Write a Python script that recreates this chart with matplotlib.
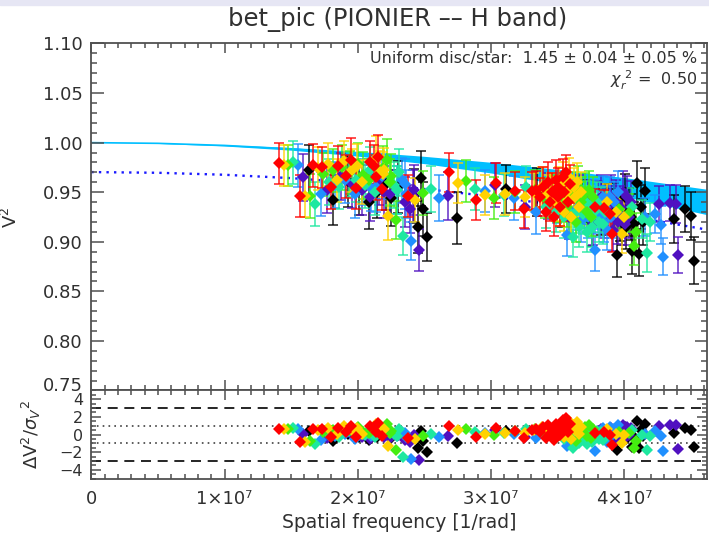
import numpy as np
import matplotlib
matplotlib.use("Agg")
import matplotlib.pyplot as plt
from matplotlib.patches import Rectangle
from matplotlib.ticker import MultipleLocator, FixedLocator
from matplotlib.transforms import ScaledTranslation

# PIONIER spectral channels (micron), long -> short wavelength
wavelength_um = [1.765, 1.725, 1.685, 1.645, 1.605, 1.565, 1.525]
channel_colors = ['#ff0000', '#ffd200', '#44ee10', '#1ee8a0', '#2090ff', '#5010c0', '#000000']

# projected baselines (m)
baseline_m = [24.90, 27.66, 29.33, 30.61, 31.77, 32.72, 33.75, 34.36, 35.07, 36.89,
              37.42, 37.77, 37.95, 38.48, 41.92,
              47.44, 50.97, 53.62, 56.13, 57.35, 58.35, 58.95,
              59.48, 59.83, 60.19, 60.54, 60.72, 61.07, 61.25, 61.60, 61.78, 61.88,
              62.13, 62.45, 62.66, 62.92, 63.19, 63.42,
              66.72, 67.95, 68.66, 68.94]

# squared visibilities, one row per baseline, one column per channel
vis2 = [
    [0.979, 0.977, 0.977, 0.980, 0.977, 0.965, 0.972],
    [0.946, 0.946, 0.946, 0.938, 0.948, 0.952, 0.942],
    [0.977, 0.974, 0.968, 0.960, 0.957, 0.966, 0.961],
    [0.975, 0.978, 0.972, 0.955, 0.962, 0.958, 0.952],
    [0.955, 0.962, 0.975, 0.968, 0.948, 0.952, 0.940],
    [0.976, 0.981, 0.970, 0.962, 0.960, 0.945, 0.950],
    [0.966, 0.972, 0.978, 0.957, 0.954, 0.962, 0.958],
    [0.982, 0.976, 0.967, 0.972, 0.955, 0.950, 0.944],
    [0.954, 0.960, 0.962, 0.950, 0.966, 0.948, 0.955],
    [0.980, 0.985, 0.974, 0.960, 0.952, 0.940, 0.946],
    [0.976, 0.970, 0.982, 0.957, 0.962, 0.933, 0.915],
    [0.965, 0.968, 0.960, 0.952, 0.958, 0.946, 0.964],
    [0.986, 0.972, 0.966, 0.970, 0.948, 0.952, 0.933],
    [0.953, 0.926, 0.922, 0.906, 0.901, 0.892, 0.905],
    [0.946, 0.942, 0.949, 0.953, 0.944, 0.946, 0.924],
    [0.970, 0.959, 0.961, 0.953, 0.951, 0.957, 0.953],
    [0.942, 0.947, 0.944, 0.947, 0.944, 0.935, 0.950],
    [0.959, 0.948, 0.950, 0.955, 0.930, 0.946, 0.940],
    [0.951, 0.945, 0.952, 0.935, 0.940, 0.925, 0.938],
    [0.933, 0.950, 0.944, 0.930, 0.907, 0.945, 0.920],
    [0.951, 0.955, 0.947, 0.925, 0.933, 0.940, 0.930],
    [0.952, 0.948, 0.940, 0.930, 0.921, 0.918, 0.935],
    [0.945, 0.950, 0.940, 0.905, 0.935, 0.940, 0.930],
    [0.955, 0.945, 0.948, 0.930, 0.925, 0.945, 0.935],
    [0.930, 0.940, 0.935, 0.915, 0.930, 0.925, 0.887],
    [0.960, 0.955, 0.945, 0.935, 0.940, 0.930, 0.925],
    [0.940, 0.935, 0.925, 0.928, 0.892, 0.935, 0.920],
    [0.950, 0.960, 0.950, 0.940, 0.930, 0.945, 0.945],
    [0.925, 0.930, 0.920, 0.910, 0.925, 0.912, 0.915],
    [0.962, 0.950, 0.955, 0.935, 0.945, 0.940, 0.930],
    [0.945, 0.942, 0.935, 0.915, 0.920, 0.928, 0.925],
    [0.955, 0.965, 0.940, 0.925, 0.935, 0.920, 0.891],
    [0.935, 0.925, 0.945, 0.930, 0.912, 0.935, 0.918],
    [0.965, 0.955, 0.950, 0.940, 0.945, 0.950, 0.959],
    [0.950, 0.945, 0.930, 0.920, 0.925, 0.918, 0.888],
    [0.970, 0.960, 0.952, 0.935, 0.940, 0.945, 0.935],
    [0.940, 0.935, 0.925, 0.918, 0.930, 0.925, 0.920],
    [0.958, 0.950, 0.945, 0.930, 0.950, 0.940, 0.951],
    [0.935, 0.940, 0.933, 0.935, 0.925, 0.938, 0.923],
    [0.934, 0.930, 0.929, 0.923, 0.928, 0.939, 0.933],
    [0.928, 0.908, 0.896, 0.889, 0.917, 0.938, 0.926],
    [0.908, 0.925, 0.910, 0.920, 0.885, 0.887, 0.881],
]

vis2_err = [
    [0.021, 0.021, 0.021, 0.022, 0.022, 0.024, 0.026],
    [0.021, 0.021, 0.022, 0.022, 0.022, 0.023, 0.025],
    [0.022, 0.022, 0.022, 0.023, 0.023, 0.024, 0.026],
    [0.021, 0.022, 0.022, 0.022, 0.023, 0.024, 0.025],
    [0.022, 0.022, 0.023, 0.023, 0.024, 0.025, 0.027],
    [0.021, 0.021, 0.022, 0.022, 0.023, 0.024, 0.026],
    [0.022, 0.022, 0.022, 0.023, 0.023, 0.025, 0.026],
    [0.023, 0.023, 0.024, 0.024, 0.025, 0.026, 0.028],
    [0.021, 0.022, 0.022, 0.023, 0.023, 0.024, 0.026],
    [0.022, 0.022, 0.023, 0.023, 0.024, 0.025, 0.027],
    [0.022, 0.022, 0.022, 0.023, 0.023, 0.024, 0.026],
    [0.023, 0.023, 0.024, 0.024, 0.025, 0.026, 0.028],
    [0.022, 0.023, 0.023, 0.024, 0.024, 0.025, 0.027],
    [0.021, 0.024, 0.019, 0.019, 0.019, 0.021, 0.024],
    [0.021, 0.022, 0.022, 0.023, 0.023, 0.024, 0.026],
    [0.020, 0.020, 0.021, 0.021, 0.021, 0.022, 0.024],
    [0.020, 0.020, 0.021, 0.021, 0.022, 0.022, 0.024],
    [0.020, 0.021, 0.021, 0.021, 0.022, 0.023, 0.025],
    [0.019, 0.020, 0.020, 0.021, 0.021, 0.022, 0.024],
    [0.019, 0.019, 0.020, 0.020, 0.021, 0.022, 0.024],
    [0.019, 0.020, 0.020, 0.021, 0.021, 0.022, 0.023],
    [0.019, 0.019, 0.020, 0.020, 0.021, 0.021, 0.023],
    [0.019, 0.019, 0.020, 0.020, 0.021, 0.021, 0.023],
    [0.020, 0.020, 0.020, 0.021, 0.021, 0.022, 0.024],
    [0.019, 0.019, 0.020, 0.020, 0.020, 0.021, 0.023],
    [0.020, 0.020, 0.021, 0.021, 0.022, 0.022, 0.024],
    [0.019, 0.019, 0.020, 0.020, 0.021, 0.021, 0.023],
    [0.019, 0.020, 0.020, 0.021, 0.021, 0.022, 0.023],
    [0.019, 0.019, 0.020, 0.020, 0.020, 0.021, 0.022],
    [0.020, 0.020, 0.021, 0.021, 0.021, 0.022, 0.024],
    [0.019, 0.019, 0.019, 0.020, 0.020, 0.021, 0.023],
    [0.019, 0.020, 0.020, 0.020, 0.021, 0.022, 0.024],
    [0.019, 0.019, 0.020, 0.020, 0.020, 0.021, 0.022],
    [0.018, 0.019, 0.019, 0.020, 0.020, 0.021, 0.022],
    [0.019, 0.019, 0.020, 0.020, 0.021, 0.021, 0.023],
    [0.018, 0.019, 0.019, 0.020, 0.020, 0.021, 0.022],
    [0.019, 0.019, 0.019, 0.020, 0.020, 0.021, 0.023],
    [0.019, 0.020, 0.020, 0.020, 0.021, 0.021, 0.023],
    [0.018, 0.018, 0.019, 0.019, 0.019, 0.018, 0.024],
    [0.018, 0.018, 0.019, 0.019, 0.019, 0.018, 0.023],
    [0.018, 0.019, 0.019, 0.019, 0.019, 0.019, 0.024],
    [0.018, 0.018, 0.019, 0.019, 0.019, 0.018, 0.024],
]

# models: star alone (band) and star + disc (dotted)
model_freq = [0.0, 0.5e7, 1.0e7, 1.5e7, 2.0e7, 2.5e7, 3.0e7, 3.5e7, 4.0e7, 4.62e7]
star_lo = [1.0, 0.9992, 0.9966, 0.9924, 0.9864, 0.9788, 0.9694, 0.9584, 0.9456, 0.9274]
star_hi = [1.0, 0.9995, 0.9978, 0.9951, 0.9912, 0.9862, 0.9802, 0.9730, 0.9648, 0.9530]
star_mid = [1.0, 0.9993, 0.9972, 0.9937, 0.9888, 0.9825, 0.9748, 0.9657, 0.9552, 0.9402]
disc_model = [0.9703, 0.9696, 0.9676, 0.9642, 0.9594, 0.9533, 0.9458, 0.9370, 0.9268, 0.9123]

B = np.array(baseline_m)
lam = np.array(wavelength_um) * 1e-6
V2 = np.array(vis2)
E2 = np.array(vis2_err)
freq = B[:, None] / lam[None, :]
resid = (V2 - np.interp(freq, model_freq, disc_model)) / E2

axis_col = '#505050'
text_col = '#303030'
plt.rcParams['font.family'] = ['DejaVu Sans']
plt.rcParams['mathtext.fontset'] = 'dejavusans'

fig = plt.figure(figsize=(7.09, 5.35), dpi=100)
fig.patches.append(Rectangle((0, 1 - 5 / 535), 1, 5 / 535, transform=fig.transFigure,
                             color='#e6e6f4', zorder=0))
ax1 = fig.add_axes([0.1288, 0.2701, 0.8684, 0.6486])
ax2 = fig.add_axes([0.1288, 0.1056, 0.8684, 0.1645], sharex=ax1)

ax1.fill_between(model_freq, star_lo, star_hi, color='#00bfff', lw=0, zorder=1)
ax1.plot(model_freq, star_mid, color='#00bfff', lw=1.2, zorder=1)
ax1.plot(model_freq, disc_model, color='#1a1aff', lw=1.7, ls=(0, (1, 2.2)), zorder=1)

order = [6, 5, 4, 3, 2, 1, 0]
for k in order:
    ax1.errorbar(freq[:, k], V2[:, k], yerr=E2[:, k], fmt='none', ecolor=channel_colors[k],
                 elinewidth=1.3, capsize=3.5, capthick=1.3, alpha=0.75, zorder=2)
for k in order:
    ax1.plot(freq[:, k], V2[:, k], 'D', color=channel_colors[k], ms=6.2, mew=0, zorder=3)
    ax2.plot(freq[:, k], resid[:, k], 'D', color=channel_colors[k], ms=6.2, mew=0, zorder=3)

for lvl in (3, -3):
    ax2.axhline(lvl, color='black', lw=1.2, ls=(0, (6, 4)), zorder=1)
for lvl in (1, -1):
    ax2.axhline(lvl, color='#404040', lw=1.2, ls=(0, (1, 2.5)), zorder=1)

ax1.set_xlim(0, 4.622e7)
ax1.set_ylim(0.75, 1.10)
ax2.set_ylim(-5, 5)

ax1.set_yticks(np.arange(0.75, 1.101, 0.05))
ax1.set_yticklabels(['%.2f' % v for v in np.arange(0.75, 1.101, 0.05)])
ax1.yaxis.set_minor_locator(MultipleLocator(0.01))
ax1.xaxis.set_major_locator(MultipleLocator(1e7))
ax1.xaxis.set_minor_locator(MultipleLocator(1e6))
ax2.yaxis.set_major_locator(FixedLocator([-4, -2, 0, 2, 4]))
ax2.yaxis.set_minor_locator(MultipleLocator(0.5))
ax2.set_yticklabels(['\u22124', '\u22122', '0', '2', '4'])
plt.setp(ax1.get_xticklabels(), visible=False)
ax2.set_xticks([0, 1e7, 2e7, 3e7, 4e7])
ax2.set_xticklabels(['0', '1\u00d710\u2077', '2\u00d710\u2077', '3\u00d710\u2077', '4\u00d710\u2077'])

for ax in (ax1, ax2):
    for sp in ax.spines.values():
        sp.set_color(axis_col)
        sp.set_linewidth(1.3)
    ax.tick_params(which='both', direction='in', top=True, right=True, color=axis_col,
                   width=1.1, labelsize=13, labelcolor=text_col)
    ax.tick_params(axis='x', which='major', length=7)
    ax.tick_params(axis='x', which='minor', length=3.5)
ax1.tick_params(axis='y', which='major', length=9, pad=6)
ax1.tick_params(axis='y', which='minor', length=4.5)
ax2.tick_params(axis='y', which='major', length=7, pad=6, labelsize=11.5)
ax2.tick_params(axis='y', which='minor', length=3.5)
ax2.tick_params(axis='x', which='major', pad=8)

# keep the lowest top-panel label clear of the lower panel's "4"
lab = ax1.get_yticklabels()[0]
lab.set_transform(lab.get_transform() + ScaledTranslation(0, 5 / 72, fig.dpi_scale_trans))

ax1.set_ylabel('V$^2$', fontsize=13, color=text_col)
ax1.yaxis.set_label_coords(-0.114, 0.5)
ax2.set_ylabel(r'$\Delta$V$^2$/$\sigma_V$$^2$', fontsize=13, color=text_col)
ax2.yaxis.set_label_coords(-0.078, 0.5)
ax2.set_xlabel('Spatial frequency [1/rad]', fontsize=13.5, color=text_col, labelpad=4)
fig.text(398 / 709, 1 - 19 / 535, 'bet_pic (PIONIER \u2013\u2013 H band)', ha='center', va='center',
         fontsize=17.5, color=text_col)
fig.text(697 / 709, 1 - 58 / 535, 'Uniform disc/star:  1.45 \u00b1 0.04 \u00b1 0.05 %', ha='right',
         va='center', fontsize=11.5, color=text_col)
fig.text(697 / 709, 1 - 80 / 535, r'$\chi_r^{\ 2}$ =  0.50', ha='right', va='center',
         fontsize=11.5, color=text_col)

fig.savefig('out.png', dpi=100)
